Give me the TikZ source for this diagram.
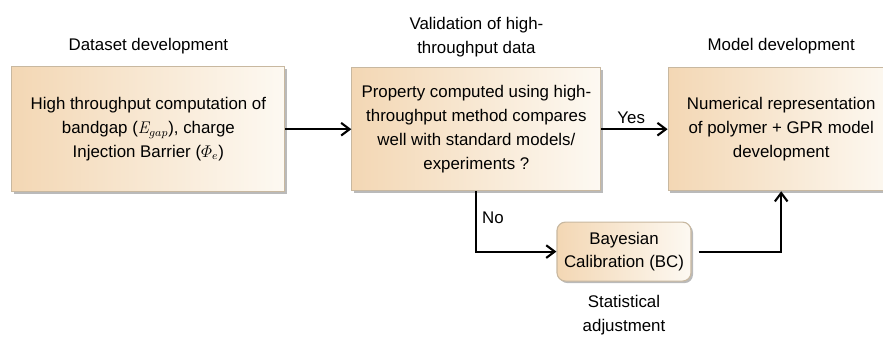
\documentclass[tikz,border=0pt]{standalone}
\usepackage{amsmath}
\usepackage[no-math]{fontspec}
\setmainfont{Liberation Sans}
\usetikzlibrary{positioning,shadows,arrows.meta}

\definecolor{tanleft}{RGB}{243,215,180}
\definecolor{tanright}{RGB}{253,249,242}
\definecolor{tanline}{RGB}{200,184,160}

\tikzset{
  stagebox/.style={draw=tanline, line width=0.8pt, left color=tanleft, right color=tanright,
    align=center, inner sep=0pt,
    drop shadow={shadow xshift=0.05cm, shadow yshift=-0.05cm, opacity=0.45, fill=black!60}},
  calbox/.style={stagebox, rounded corners=6pt},
  caption/.style={align=center},
}

\begin{document}
\begin{tikzpicture}[>={Straight Barb[length=6pt,width=9pt]}, node distance=3cm, on grid, line width=1.5pt,
  font=\fontsize{12}{17}\selectfont]
  \useasboundingbox (0,0) rectangle (22.075,-8.425);
  \clip (0,0) rectangle (22.075,-8.425);

  \node[stagebox, minimum width=6.825cm, minimum height=3.125cm] (data) at (3.71,-3.23)
    {High throughput computation of\\ bandgap ($\mathit{E}_{gap}$), charge\\ Injection Barrier ($\varPhi_e$)};
  \node[stagebox, minimum width=6.225cm, minimum height=3.075cm] (valid) [right=8.2cm of data]
    {Property computed using high-\\ throughput method compares\\ well with standard models/\\ experiments ?};
  \node[stagebox, minimum width=5.65cm, minimum height=3.075cm] (model) [right=7.62cm of valid]
    {Numerical representation\\ of polymer + GPR model\\ development};
  \node[calbox, minimum width=3.35cm, minimum height=1.475cm] (calib) at (15.6,-6.29)
    {Bayesian\\ Calibration (BC)};

  \node[caption] (datalbl) [above=2.07cm of data] {Dataset development};
  \node[caption] (validlbl) [above=2.3cm of valid] {Validation of high-\\ throughput data};
  \node[caption] (modellbl) [above=2.07cm of model] {Model development};
  \node[caption] (caliblbl) [below=1.59cm of calib] {Statistical\\ adjustment};

  \draw[->] (data) -- (valid);
  \draw[->] (valid) -- node[above, pos=0.45] {Yes} (model);
  \draw[->] (valid) |- node[right, pos=0.22] {No} (calib);
  \draw[->, shorten <=5pt] (calib) -| (model);
\end{tikzpicture}
\end{document}
